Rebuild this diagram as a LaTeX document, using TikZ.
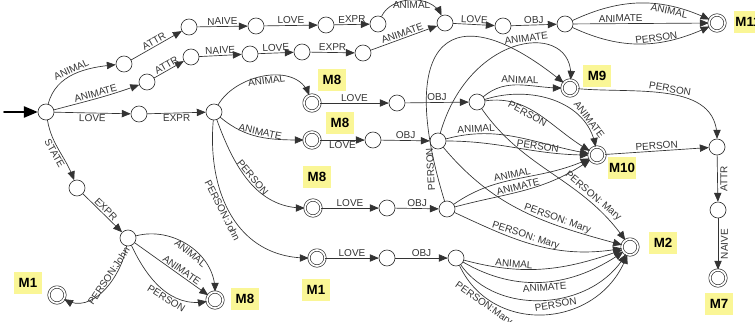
\documentclass[tikz,border=0pt]{standalone}
\usepackage{fontspec}
\setmainfont{Liberation Sans}
\usetikzlibrary{arrows}
\definecolor{tagyellow}{RGB}{250,246,150}

\begin{document}
\begin{tikzpicture}[line cap=round,line join=round,>=triangle 45,x=0.75pt,y=-0.75pt,
  color=black!80,line width=0.5pt,
  st/.style={circle,draw,minimum size=12pt,inner sep=0pt},
  fin/.style={st,double,double distance=1.3pt},
  tag/.style={fill=tagyellow,text=black,font=\fontsize{10}{10}\selectfont\bfseries,minimum width=21pt,minimum height=17pt,inner sep=1pt},
  lb/.style={font=\fontsize{7.5}{8}\selectfont,inner sep=1pt,sloped}]
\useasboundingbox (0,0) rectangle (755,321);
% states
\node[st] (s0) at (46,112) {};
\node[st] (a1) at (124,64) {};
\node[st] (a2) at (189,27) {};
\node[st] (a3) at (256,26) {};
\node[st] (a4) at (326,25) {};
\node[st] (a5) at (378,24) {};
\node[st] (a6) at (445,23) {};
\node[st] (a7) at (503,26) {};
\node[st] (a8) at (565,24) {};
\node[fin] (m11) at (717,23) {};
\node[st] (b1) at (147,82) {};
\node[st] (b2) at (191,57) {};
\node[st] (b3) at (250,54) {};
\node[st] (b4) at (302,52) {};
\node[st] (b5) at (363,53) {};
\node[st] (c1) at (139,114) {};
\node[st] (c2) at (214,112) {};
\node[fin] (m8a) at (312,103) {};
\node[st] (d1) at (397,103) {};
\node[st] (d2) at (477,102) {};
\node[fin] (m8b) at (312,140) {};
\node[st] (d3) at (373,140) {};
\node[st] (d4) at (438,141) {};
\node[fin] (m8c) at (313,208) {};
\node[st] (d5) at (387,208) {};
\node[st] (d6) at (447,209) {};
\node[fin] (m1a) at (317,258) {};
\node[st] (d7) at (387,258) {};
\node[st] (d8) at (456,258) {};
\node[fin] (m9) at (570,88) {};
\node[fin] (m10) at (597,155) {};
\node[fin] (m2) at (630,247) {};
\node[st] (e1) at (717,147) {};
\node[st] (e2) at (718,210) {};
\node[fin] (m7) at (718,278) {};
\node[st] (f1) at (77,188) {};
\node[st] (f2) at (128,238) {};
\node[fin] (m1b) at (57,295) {};
\node[fin] (m8d) at (215,300) {};
% tags
\node[tag] (t11) at (748,22) {M11};
\node[tag] (t8a) at (332,80) {M8};
\node[tag] (t8b) at (340,123) {M8};
\node[tag] (t8c) at (317,177) {M8};
\node[tag] (t1a) at (316,290) {M1};
\node[tag] (t9) at (597,76) {M9};
\node[tag] (t10) at (622,168) {M10};
\node[tag] (t2) at (663,243) {M2};
\node[tag] (t7) at (719,304) {M7};
\node[tag] (t1b) at (28,283) {M1};
\node[tag] (t8d) at (245,299) {M8};
% start
\coordinate (in) at (4,112);
\draw[->,line width=1.4pt,black] (in) -- (s0);
% top rows
\draw[->] (s0) to[out=75,in=185] node[lb,above] {ANIMAL} (a1);
\draw[->] (a1) -- node[lb,above] {ATTR} (a2);
\draw[->] (a2) -- node[lb,above] {NAIVE} (a3);
\draw[->] (a3) -- node[lb,above] {LOVE} (a4);
\draw[->] (a4) -- node[lb,above] {EXPR} (a5);
\draw[->] (a5) to[out=65,in=115] node[lb,below] {ANIMAL} (a6);
\draw[->] (a6) -- node[lb,above] {LOVE} (a7);
\draw[->] (a7) -- node[lb,above] {OBJ} (a8);
\draw[->] (a8) to[out=25,in=155] node[lb,below,pos=.72] {ANIMAL} (m11);
\draw[->] (a8) -- node[lb,above,pos=.35] {ANIMATE} (m11);
\draw[->] (a8) to[out=-25,in=205] node[lb,above,pos=.62] {PERSON} (m11);
\draw[->] (s0) to[out=15,in=200] node[lb,above] {ANIMATE} (b1);
\draw[->] (b1) -- node[lb,above] {ATTR} (b2);
\draw[->] (b2) -- node[lb,above] {NAIVE} (b3);
\draw[->] (b3) -- node[lb,above] {LOVE} (b4);
\draw[->] (b4) -- node[lb,above] {EXPR} (b5);
\draw[->] (b5) -- node[lb,above] {ANIMATE} (a6);
% middle
\draw[->] (s0) -- node[lb,below] {LOVE} (c1);
\draw[->] (c1) -- node[lb,below] {EXPR} (c2);
\draw[->] (c2) to[out=60,in=110] node[lb,below] {ANIMAL} (m8a);
\draw[->] (c2) to[out=-40,in=180] node[lb,above] {ANIMATE} (m8b);
\draw[->] (c2) to[out=-70,in=180] node[lb,above] {PERSON} (m8c);
\draw[->] (c2) to[out=-95,in=180,looseness=1.1] node[lb,below,pos=.45] {PERSON:John} (m1a);
\draw[->] (m8a) -- node[lb,above] {LOVE} (d1);
\draw[->] (d1) -- node[lb,above] {OBJ} (d2);
\draw[->] (m8b) -- node[lb,below] {LOVE} (d3);
\draw[->] (d3) -- node[lb,above] {OBJ} (d4);
\draw[->] (m8c) -- node[lb,above] {LOVE} (d5);
\draw[->] (d5) -- node[lb,above] {OBJ} (d6);
\draw[->] (m1a) -- node[lb,above] {LOVE} (d7);
\draw[->] (d7) -- node[lb,above] {OBJ} (d8);
% right part
\draw[->] (d2) to[out=40,in=180] node[lb,above] {ANIMAL} (m9);
\draw[->] (d2) to[out=8,in=150] node[lb,below,pos=.4] {PERSON} (m10);
\draw[->] (d2) to[out=18,in=100] node[lb,above,pos=.8] {ANIMATE} (m10);
\draw[->] (d2) to[out=-55,in=125] node[lb,above,pos=.74] {PERSON: Mary} (m2);
\draw[->] (d4) .. controls (470,30) and (575,20) .. node[lb,above,pos=.55] {ANIMATE} (m9);
\draw[->] (d4) to[out=15,in=170] node[lb,above,pos=.2] {ANIMAL} (m10);
\draw[->] (d4) to[out=0,in=180] node[lb,above,pos=.65] {PERSON} (m10);
\draw[->] (d4) to[out=-50,in=165] node[lb,above,pos=.68] {PERSON: Mary} (m2);
\draw[->] (d6) .. controls (395,40) and (450,-10) .. node[above,rotate=93,pos=.07,font=\fontsize{7.5}{8}\selectfont,inner sep=1pt] {PERSON} (m9);
\draw[->] (d6) to[out=35,in=205] node[lb,above,pos=.45] {ANIMAL} (m10);
\draw[->] (d6) to[out=15,in=215] node[lb,above,pos=.45] {ANIMATE} (m10);
\draw[->] (d6) to[out=-25,in=190] node[lb,above,pos=.42] {PERSON: Mary} (m2);
\draw[->] (d8) to[out=-15,in=200] node[lb,above,pos=.3] {ANIMAL} (m2);
\draw[->] (d8) to[out=-30,in=215] node[lb,below,pos=.5] {ANIMATE} (m2);
\draw[->] (d8) to[out=-55,in=240] node[lb,below,pos=.55] {PERSON} (m2);
\draw[->] (d8) to[out=-65,in=250,looseness=1.2] node[lb,below,pos=.2] {PERSON:Mary} (m2);
\draw[->] (m9) to[out=-5,in=90] node[lb,above] {PERSON} (e1);
\draw[->] (m10) -- node[lb,above] {PERSON} (e1);
\draw[->] (e1) -- node[below,rotate=90,font=\fontsize{7.5}{8}\selectfont,inner sep=2pt] {ATTR} (e2);
\draw[->] (e2) -- node[below,rotate=90,font=\fontsize{7.5}{8}\selectfont,inner sep=2pt] {NAIVE} (m7);
% lower left
\draw[->] (s0) to[out=-80,in=110] node[lb,below] {STATE} (f1);
\draw[->] (f1) -- node[lb,above] {EXPR} (f2);
\draw[->] (f2) to[out=-100,in=-30] node[lb,above,pos=.35] {PERSON:John} (m1b);
\draw[->] (f2) to[out=15,in=90] node[lb,below,pos=.55] {ANIMAL} (m8d);
\draw[->] (f2) -- node[lb,above,pos=.6] {ANIMATE} (m8d);
\draw[->] (f2) to[out=-65,in=190] node[lb,below,pos=.6] {PERSON} (m8d);
\end{tikzpicture}
\end{document}
